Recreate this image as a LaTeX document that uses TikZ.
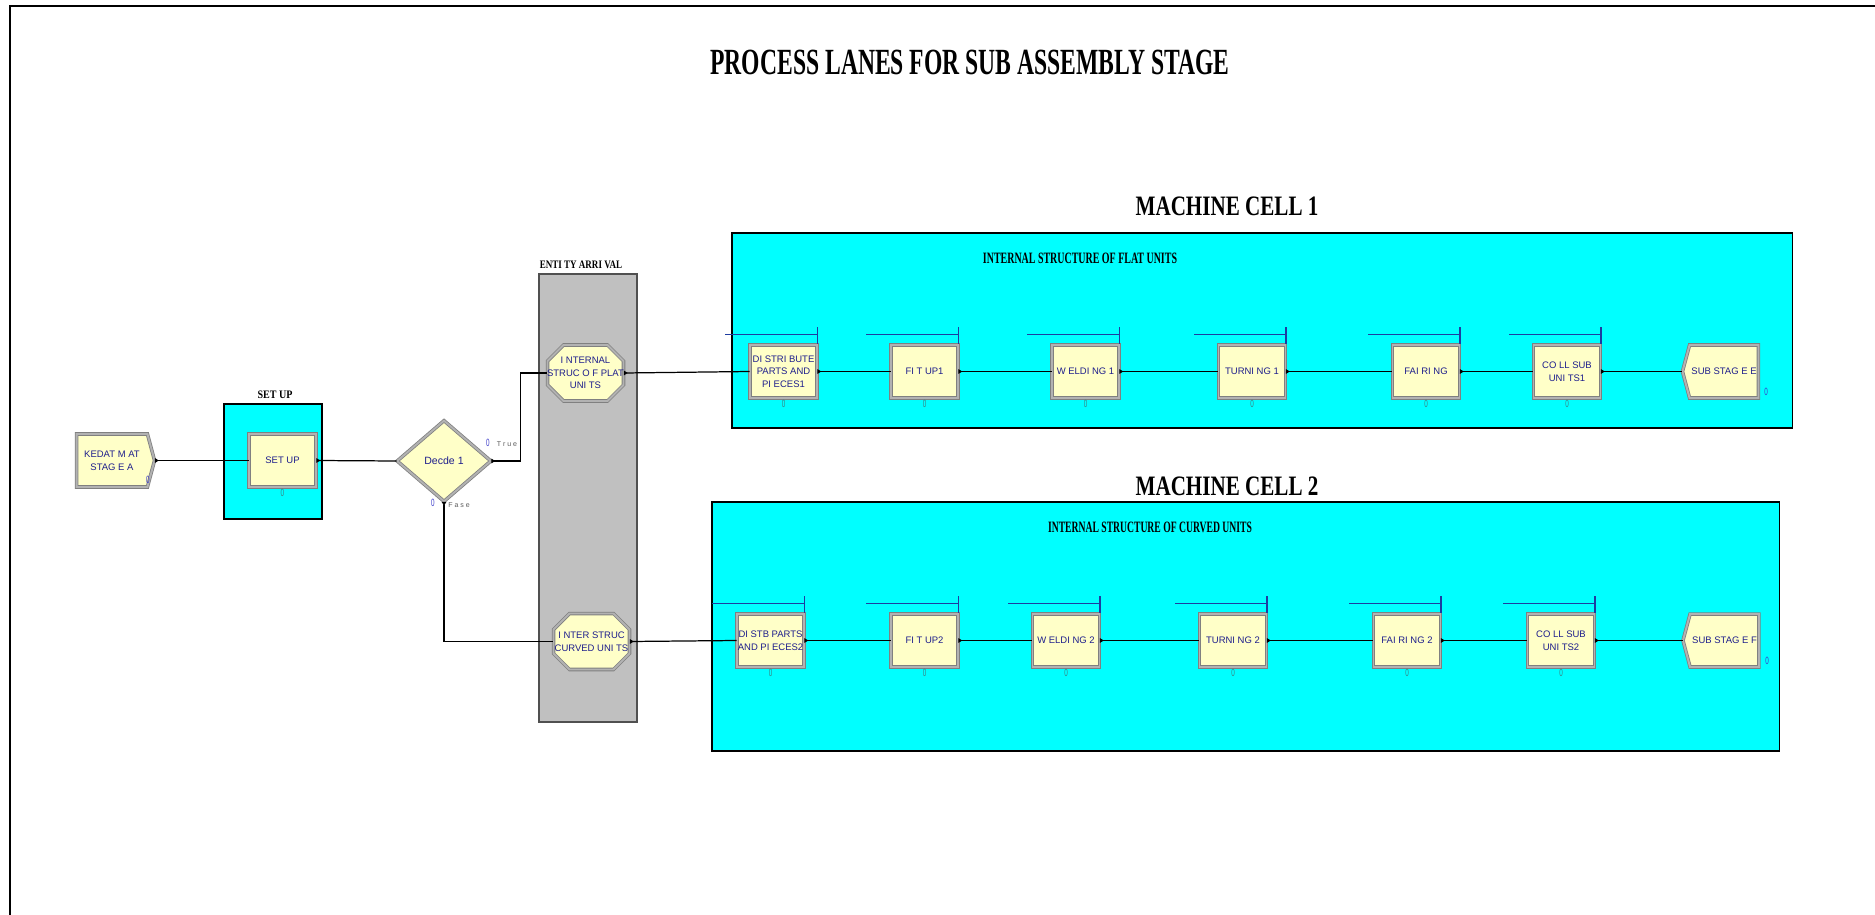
\documentclass[tikz,border=0pt]{standalone}
\usepackage{fontspec}
\setmainfont{Liberation Serif}
\setsansfont{Liberation Sans}
\usepackage{graphicx}
\usetikzlibrary{shapes.geometric, shapes.misc, shapes.symbols, arrows.meta, positioning}
\definecolor{cellcyan}{RGB}{0,255,255}
\definecolor{arrivalgray}{RGB}{192,192,192}
\definecolor{arrivaledge}{RGB}{80,80,80}
\definecolor{modfill}{RGB}{255,255,200}
\definecolor{modedge}{RGB}{128,128,128}
\definecolor{modband}{RGB}{178,178,178}
\definecolor{modtext}{RGB}{30,30,140}
\definecolor{queueblue}{RGB}{30,60,160}
\definecolor{cntteal}{RGB}{60,130,130}
\definecolor{cntblue}{RGB}{60,60,200}
\definecolor{branchgray}{RGB}{90,90,90}
\newcommand{\narrow}[2]{\scalebox{#1}[1]{#2}}
\newcommand{\modsize}{\fontsize{5.4}{7.2}\selectfont\sffamily}
\tikzset{
  process/.style={rectangle, draw=modedge, double=modband, double distance=1.1pt,
    line width=0.45pt, fill=modfill, minimum width=1.34cm, minimum height=1.06cm,
    inner sep=0pt, align=center, font=\modsize, text=modtext},
  station/.style={process, chamfered rectangle, chamfered rectangle xsep=0.16cm,
    chamfered rectangle ysep=0.16cm, minimum width=1.38cm, minimum height=1.12cm},
  createmod/.style={process, signal, signal to=east, signal pointer angle=150,
    minimum width=1.56cm},
  disposemod/.style={process, signal, signal to=west, signal pointer angle=150,
    minimum width=1.52cm},
  decidemod/.style={process, diamond, minimum width=1.88cm, minimum height=1.62cm},
  cellbox/.style={draw=black, line width=0.6pt, fill=cellcyan},
  arrivalbox/.style={draw=arrivaledge, line width=0.6pt, fill=arrivalgray},
  maintitle/.style={font=\fontsize{21}{24}\selectfont\bfseries, inner sep=0pt},
  celltitle/.style={font=\fontsize{16}{18}\selectfont\bfseries, inner sep=0pt},
  areatitle/.style={font=\fontsize{6.5}{8}\selectfont\bfseries, inner sep=0pt},
  subtitle/.style={font=\fontsize{9}{10}\selectfont\bfseries, inner sep=0pt},
  count/.style={font=\fontsize{6}{6}\selectfont\sffamily, text=cntteal, inner sep=0pt},
  branch/.style={font=\fontsize{4}{4}\selectfont\sffamily, text=branchgray, inner sep=0pt},
  queue/.style={line width=0.7pt, color=queueblue},
  conn/.style={arrows={Triangle[reversed,length=2.2pt,width=2.6pt]-}, line width=0.7pt, black}
}
\begin{document}
\begin{tikzpicture}[x=0.02cm, y=-0.02cm]
  \useasboundingbox (0,0) rectangle (1875,915);
  % Page frame and title
  \draw[line width=0.6pt] (10,915) -- (10,6) -- (1875,6);
  \node[maintitle] (title) at (970,62) {\narrow{0.64}{PROCESS LANES FOR SUB ASSEMBLY STAGE}};

  % Areas
  \draw[cellbox] (224,404) rectangle (322,519);
  \node[areatitle] (setuplbl) at (275,395) {\narrow{0.88}{SET UP}};
  \draw[arrivalbox] (539,274) rectangle (637,722);
  \node[areatitle] (arrivallbl) at (581,265) {\narrow{0.79}{ENTI TY ARRI VAL}};
  \draw[cellbox] (732,233) rectangle (1792,428);
  \node[celltitle] (cell1lbl) at (1227,206) {\narrow{0.75}{MACHINE CELL 1}};
  \node[subtitle] (flatlbl) at (1080,258) {\narrow{0.63}{INTERNAL STRUCTURE OF FLAT UNITS}};
  \draw[cellbox] (712,502) rectangle (1779,751);
  \node[celltitle] (cell2lbl) at (1227,486) {\narrow{0.75}{MACHINE CELL 2}};
  \node[subtitle] (curvedlbl) at (1150,527) {\narrow{0.61}{INTERNAL STRUCTURE OF CURVED UNITS}};

  % Entry modules
  \node[createmod] (kedat) at (112,460.5) {KEDAT M AT\\STAG E A};
  \node[process] (setup) at (282.5,460.5) {SET UP};
  \node[decidemod] (decide) at (444,461) {\fontsize{6}{7}\selectfont Decde 1};
  \node[station] (flat) at (585.5,373) {\makebox[1.2cm]{I NTERNAL}\\\makebox[1.2cm]{STRUC O F PLAT}\\\makebox[1.2cm]{UNI TS}};
  \node[station] (curved) at (591.5,641.5) {\makebox[1.2cm]{I NTER STRUC}\\\makebox[1.2cm]{CURVED UNI TS}};

  % Machine cell 1
  \foreach \nm/\px/\txt in {dist1/783.5/{DI STRI BUTE\\PARTS AND\\PI ECES1}, fit1/924.5/{FI T UP1},
      weld1/1085.5/{W ELDI NG 1}, turn1/1252/{TURNI NG 1}, fair1/1426/{FAI RI NG},
      coll1/1567/{CO LL SUB\\UNI TS1}}
    \node[process] (\nm) at (\px,371.5) {\txt};
  \node[disposemod] (sube) at (1724,371.5) {SUB STAG E E};

  % Machine cell 2
  \foreach \nm/\px/\txt in {dist2/770.5/{DI STB PARTS\\AND PI ECES2}, fit2/924.5/{FI T UP2},
      weld2/1066/{W ELDI NG 2}, turn2/1233/{TURNI NG 2}, fair2/1407/{FAI RI NG 2},
      coll2/1561/{CO LL SUB\\UNI TS2}}
    \node[process] (\nm) at (\px,640.5) {\txt};
  \node[disposemod] (subf) at (1724.5,640.5) {SUB STAG E F};

  % Queues and counters
  \foreach \nm in {dist1,fit1,weld1,turn1,fair1,coll1,dist2,fit2,weld2,turn2,fair2,coll2}{
    \draw[queue] ([yshift=0.2cm]\nm.north east) -- ++(-1.84cm,0);
    \draw[queue] ([yshift=0.02cm]\nm.north east) -- ++(0,0.34cm);
    \node[count, below=0.03cm of \nm] (\nm-cnt) {\narrow{0.6}{0}};
  }
  \node[count, below=0.03cm of setup] (setup-cnt) {\narrow{0.6}{0}};
  \node[count, text=cntblue] (kedat-cnt) at (148,480) {\narrow{0.6}{0}};
  \node[count, text=cntblue] (sube-cnt) at (1766,392) {\narrow{0.6}{0}};
  \node[count, text=cntblue] (subf-cnt) at (1767,661) {\narrow{0.6}{0}};
  \node[count, text=cntblue] (true-cnt) at (488,443) {\narrow{0.6}{0}};
  \node[branch] (truelbl) at (507,444) {T r u e};
  \node[count, text=cntblue] (false-cnt) at (433,503) {\narrow{0.6}{0}};
  \node[branch] (falselbl) at (459,505) {F a s e};

  % Connectors
  \draw[conn] (kedat.east) -- (setup.west);
  \draw[conn] (setup.east) -- (decide.west);
  \draw[conn] (decide.east) -- ++(29,0) |- (flat.west);
  \draw[conn] (decide.south) |- (curved.west);
  \foreach \a/\b in {flat/dist1, dist1/fit1, fit1/weld1, weld1/turn1, turn1/fair1, fair1/coll1,
      coll1/sube, curved/dist2, dist2/fit2, fit2/weld2, weld2/turn2, turn2/fair2,
      fair2/coll2, coll2/subf}
    \draw[conn] (\a.east) -- (\b.west);
\end{tikzpicture}
\end{document}
